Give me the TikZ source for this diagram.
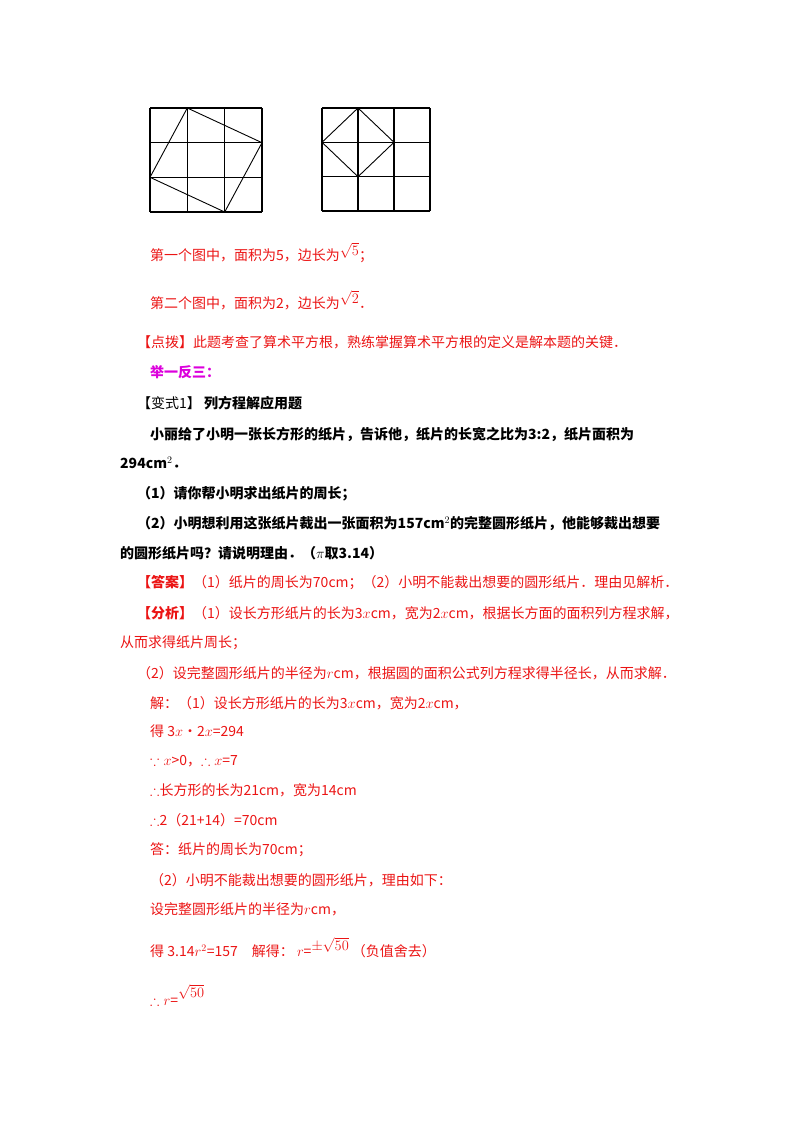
\documentclass[tikz,border=0pt]{standalone}
\usepackage{amssymb}
\usepackage{fontspec}
\setmainfont{Noto Sans CJK SC}
\definecolor{rd}{RGB}{235,20,20}
\definecolor{mg}{RGB}{220,0,220}
\begin{document}
\begin{tikzpicture}[x=1pt,y=-1pt,
  t/.style={anchor=west,inner sep=0pt,font=\fontsize{14}{16}\selectfont},
  r/.style={t,text=rd},
  b/.style={t,font=\fontsize{14}{16}\selectfont\bfseries},
  g/.style={line width=1.1pt},
  p/.style={line width=0.9pt}]
\useasboundingbox (0,0) rectangle (800,1132);
% grid 1
\foreach \i in {0,1,2,3}{
  \draw[g] (150+37.33*\i,108) -- (150+37.33*\i,212);
  \draw[g] (150,108+34.67*\i) -- (262,108+34.67*\i);}
\coordinate (a1) at (187.3,108); \coordinate (a2) at (262,142.7);
\coordinate (a3) at (224.7,212); \coordinate (a4) at (150,177.3);
\draw[p] (a1)--(a2)--(a3)--(a4)--cycle;
% grid 2
\foreach \i in {0,1,2,3}{
  \draw[g] (322+36*\i,108) -- (322+36*\i,211);
  \draw[g] (322,108+34.33*\i) -- (430,108+34.33*\i);}
\coordinate (b1) at (358,108); \coordinate (b2) at (394,142.3);
\coordinate (b3) at (358,176.7); \coordinate (b4) at (322,142.3);
\draw[p] (b1)--(b2)--(b3)--(b4)--cycle;
\node[r] (l1) at (150,253) {第一个图中，面积为5，边长为$\raisebox{5pt}{$\sqrt{5}$}$；};
\node[r] (l2) at (150,300) {第二个图中，面积为2，边长为$\raisebox{5pt}{$\sqrt{2}$}$．};
\node[r] (l3) at (137,342) {【点拨】此题考查了算术平方根，熟练掌握算术平方根的定义是解本题的关键．};
\node[t,text=mg,font=\fontsize{14}{16}\selectfont\bfseries] (l4) at (150,372) {举一反三：};
\node[t] (l5) at (137,403) {【变式1】 \textbf{列方程解应用题}};
\node[b] (l6) at (150,434) {小丽给了小明一张长方形的纸片，告诉他，纸片的长宽之比为3:2，纸片面积为};
\node[b] (l7) at (120,463) {294cm$^2$．};
\node[b] (l8) at (137,494) {（1）请你帮小明求出纸片的周长；};
\node[b] (l9) at (137,524) {（2）小明想利用这张纸片裁出一张面积为157cm$^2$的完整圆形纸片，他能够裁出想要};
\node[b] (l10) at (120,553) {的圆形纸片吗？请说明理由．（$\pi$取3.14）};
\node[r] (l11) at (137,583) {\textbf{【答案】}（1）纸片的周长为70cm；（2）小明不能裁出想要的圆形纸片．理由见解析．};
\node[r] (l12) at (137,613) {\textbf{【分析】}（1）设长方形纸片的长为3$x$cm，宽为2$x$cm，根据长方面的面积列方程求解，};
\node[r] (l13) at (120,643) {从而求得纸片周长；};
\node[r] (l14) at (137,673) {（2）设完整圆形纸片的半径为$r$cm，根据圆的面积公式列方程求得半径长，从而求解．};
\node[r] (l15) at (150,703) {解：（1）设长方形纸片的长为3$x$cm，宽为2$x$cm，};
\node[r] (l16) at (150,731) {得 3$x$·2$x$=294};
\node[r] (l17) at (150,761) {$\because x$>0，$\therefore x$=7};
\node[r] (l18) at (150,790) {$\therefore$长方形的长为21cm，宽为14cm};
\node[r] (l19) at (150,820) {$\therefore$2（21+14）=70cm};
\node[r] (l20) at (150,850) {答：纸片的周长为70cm；};
\node[r] (l21) at (150,880) {（2）小明不能裁出想要的圆形纸片，理由如下：};
\node[r] (l22) at (150,909) {设完整圆形纸片的半径为$r$cm，};
\node[r] (l23) at (150,948) {得 3.14$r^2$=157\quad 解得：\ $r$=$\raisebox{6pt}{$\pm\sqrt{50}$}$ （负值舍去）};
\node[r] (l24) at (150,995) {$\therefore r$=$\raisebox{8pt}{$\sqrt{50}$}$};
\end{tikzpicture}
\end{document}
